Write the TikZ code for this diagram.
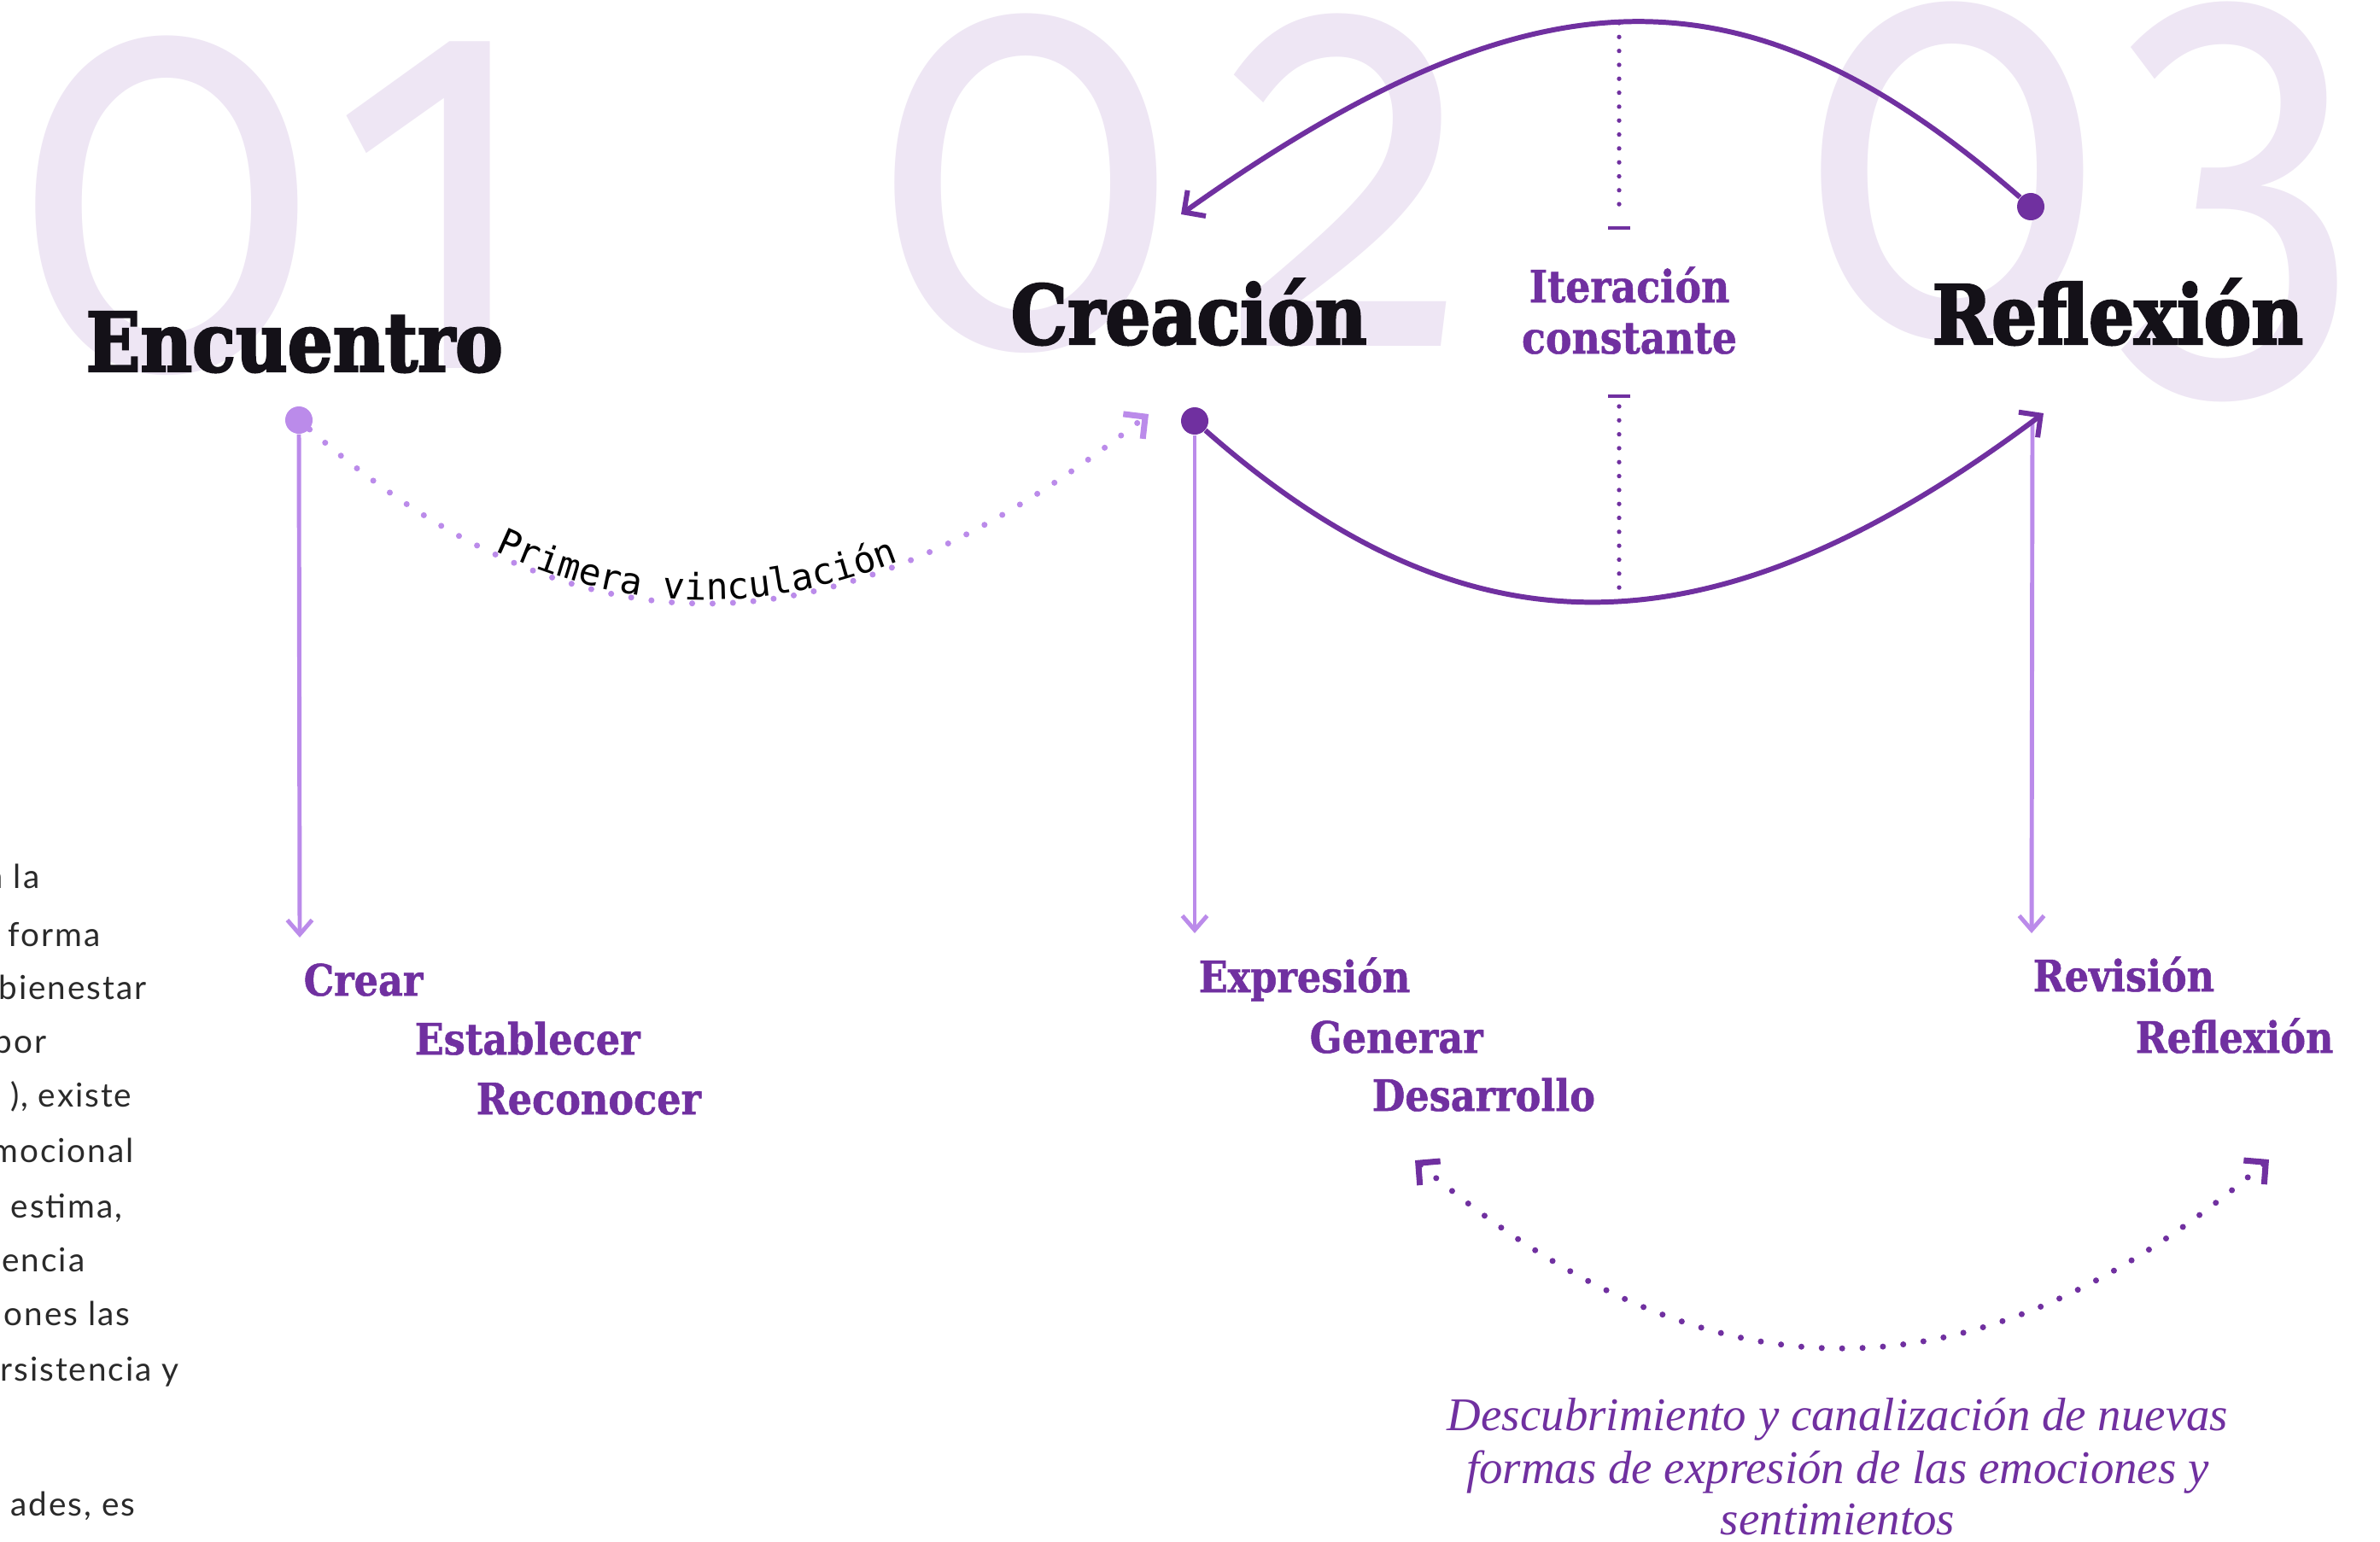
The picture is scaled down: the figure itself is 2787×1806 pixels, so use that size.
\documentclass[tikz,border=0pt]{standalone}
\usepackage{fontspec}
\setmainfont{Liberation Serif}
\newfontfamily\headfont{DejaVu Serif}[FakeStretch=0.87, FakeBold=2.5]
\newfontfamily\lblfont{DejaVu Serif}[FakeStretch=0.88, FakeBold=1]
\newfontfamily\digitfont{Fira Sans}[Numbers=OldStyle, FakeStretch=0.86]
\newfontfamily\bodyfont{Lato}[LetterSpace=5]
\newfontfamily\monofont{DejaVu Sans Mono}
\newfontfamily\italfont{Liberation Serif}
\usetikzlibrary{arrows.meta,decorations.text}
\definecolor{dpurple}{HTML}{7030A0}
\definecolor{lpurple}{HTML}{BB8BEA}
\definecolor{lav}{HTML}{EEE6F4}
\definecolor{ink}{HTML}{141118}
\definecolor{bodyc}{HTML}{2A2A2A}
\tikzset{
  digits/.style={anchor=base west, inner sep=0pt, text=lav, font=\digitfont\fontsize{193}{190}\selectfont},
  heading/.style={anchor=base west, inner sep=0pt, text=ink, font=\headfont\bfseries\fontsize{27.3}{30}\selectfont},
  lbl/.style={anchor=base west, inner sep=0pt, text=dpurple, font=\lblfont\bfseries\fontsize{14.4}{16}\selectfont},
  iterlbl/.style={anchor=base, inner sep=0pt, text=dpurple, font=\lblfont\bfseries\fontsize{14.8}{17}\selectfont},
  notetxt/.style={anchor=base, inner sep=0pt, text=dpurple, font=\italfont\itshape\fontsize{15.6}{17.6}\selectfont},
  bodytxt/.style={anchor=base east, inner sep=0pt, text=bodyc, font=\bodyfont\fontsize{11}{13}\selectfont},
  dotnode/.style={circle, inner sep=0pt, minimum size=9.1pt, draw=none},
  lline/.style={draw=lpurple, line width=1.4pt},
  darc/.style={draw=dpurple, line width=1.7pt},
  ldots/.style={draw=lpurple, line width=2pt, line cap=round, dash pattern=on 0pt off 6.8pt},
  ddots/.style={draw=dpurple, line width=2pt, line cap=round, dash pattern=on 0pt off 6.8pt},
  itdots/.style={draw=dpurple, line width=1.5pt, line cap=round, dash pattern=on 0pt off 4.64pt},
  itbar/.style={draw=dpurple, line width=1.2pt},
  vtip/.style={-{Straight Barb[length=4.75pt,width=8.25pt]}},
  ctip/.style={-{Straight Barb[length=5.2pt,width=10.5pt,sharp]}},
}
\begin{document}
\begin{tikzpicture}[x=0.01cm, y=-0.01cm]
\useasboundingbox (0,0) rectangle (2787,1806);
\fill[white] (0,0) rectangle (2787,1806);

% big background numbers
\node[digits] (n1a) at (18,431) {0};
\node[digits] (n1b) at (385,431) {1};
\node[digits] (n2a) at (1024,405) {0};
\node[digits] (n2b) at (1436,405) {2};
\node[digits] (n3a) at (2109,391) {0};
\node[digits] (n3b) at (2478,391) {3};

% left body text (clipped)
\begin{scope}
\clip (0,0) rectangle (2787,1806);
\node[bodytxt] (b1) at (47,1040) {a la};
\node[bodytxt] (b2) at (118,1108) {forma};
\node[bodytxt] (b3) at (172,1170) {bienestar};
\node[bodytxt] (b4) at (55,1233) {por};
\node[bodytxt] (b5) at (155,1296) {), existe};
\node[bodytxt] (b6) at (157,1361) {emocional};
\node[bodytxt] (b7) at (144,1426) {estima,};
\node[bodytxt] (b8) at (100,1489) {encia};
\node[bodytxt] (b9) at (153,1552) {ones las};
\node[bodytxt] (b10) at (210,1617) {rsistencia y};
\node[bodytxt] (b11) at (159,1775) {ades, es};
\end{scope}

% headings
\node[heading] (enc) at (100,435) {Encuentro};
\node[heading] (cre) at (1183,403) {Creación};
\node[heading] (ref) at (2262,403) {Reflexión};

% sub labels
\node[lbl] (l1) at (355,1166) {Crear};
\node[lbl] (l2) at (485,1235) {Establecer};
\node[lbl] (l3) at (557,1305) {Reconocer};
\node[lbl] (l4) at (1403,1162) {Expresión};
\node[lbl] (l5) at (1533,1233) {Generar};
\node[lbl] (l6) at (1606,1301) {Desarrollo};
\node[lbl] (l7) at (2380,1161) {Revisión};
\node[lbl] (l8) at (2500,1233) {Reflexión};

% iteration label
\node[iterlbl] (iter1) at (1908,354) {Iteración};
\node[iterlbl] (iter2) at (1908,414) {constante};

% italic note
\node[notetxt] (note1) at (2152,1675) {Descubrimiento y canalización de nuevas};
\node[notetxt] (note2) at (2152,1737) {formas de expresión de las emociones y};
\node[notetxt] (note3) at (2152,1797) {sentimientos};

% dots
\node[dotnode, fill=lpurple] (edot) at (350,492) {};
\node[dotnode, fill=dpurple] (cdot) at (1399,493) {};
\node[dotnode, fill=dpurple] (rdot) at (2378,242) {};

% coordinates
\coordinate (eend) at (351,1098);
\coordinate (cend) at (1399,1093);
\coordinate (rstart) at (2380,495);
\coordinate (rend) at (2379,1093);
\coordinate (ctop) at (1383,251);
\coordinate (rtip) at (2393,484);
\coordinate (ctipl) at (1345,485);
\coordinate (dl) at (1657,1359);
\coordinate (dr) at (2657,1358);
\coordinate (itA) at (1896,27);
\coordinate (itB) at (1896,255);
\coordinate (bar1l) at (1883,267);
\coordinate (bar1r) at (1909,267);
\coordinate (bar2l) at (1883,464);
\coordinate (bar2r) at (1909,464);
\coordinate (itC) at (1896,476);
\coordinate (itD) at (1896,689);

% vertical light arrows
\draw[lline, vtip] (edot) -- (eend);
\draw[lline, vtip] (cdot) -- (cend);
\draw[lline, vtip] (rstart) -- (rend);

% iteration dotted guide
\draw[itdots] (itA) -- (itB);
\draw[itbar] (bar1l) -- (bar1r);
\draw[itbar] (bar2l) -- (bar2r);
\draw[itdots] (itC) -- (itD);

% arcs
\draw[darc, ctip] (rdot) .. controls (2047,-46) and (1801,-46) .. (ctop);
\draw[darc, ctip] (cdot) .. controls (1719,775) and (2005,775) .. (rtip);

% primera vinculacion
\draw[ldots, ctip] (edot) .. controls (677,777) and (975,777) .. (ctipl);
\path[decorate, decoration={text along path,
   text={|\monofont\fontsize{12.2}{13}\selectfont|Primera vinculación},
   text align={left, left indent=74pt}, raise=1pt}]
   (edot) .. controls (677,777) and (975,777) .. (ctipl);

% bottom dotted double arrow
\draw[ddots, {Straight Barb[length=5.2pt,width=10.5pt,sharp]}-{Straight Barb[length=5.2pt,width=10.5pt,sharp]}]
   (dl) .. controls (2000,1651) and (2314,1651) .. (dr);
\end{tikzpicture}
\end{document}
